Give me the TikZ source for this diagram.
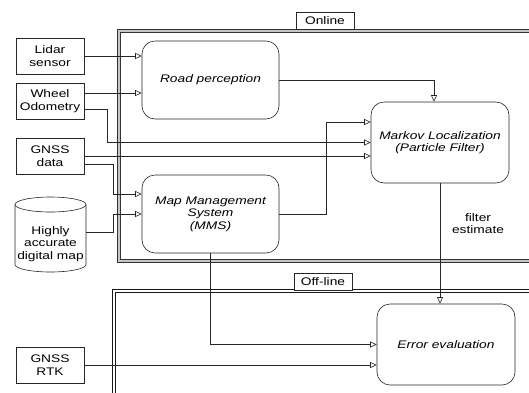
\documentclass[tikz,border=0pt]{standalone}
\usepackage{fontspec}
\setmainfont{Liberation Sans}[FakeStretch=1.25]
\usetikzlibrary{arrows.meta}
\begin{document}
\begin{tikzpicture}[x=1pt,y=-1pt,
  every node/.style={font=\fontsize{11}{12.6}\selectfont, align=center, inner sep=0pt},
  srcbox/.style={draw=black!85, line width=0.6pt, fill=white, minimum width=68pt, minimum height=36pt},
  procbox/.style={draw=black!85, line width=0.6pt, fill=white, rounded corners=13pt, font=\fontsize{11}{12.6}\selectfont\itshape},
  tagbox/.style={draw=black!85, line width=0.6pt, fill=white, minimum width=58pt, minimum height=17pt},
  conn/.style={draw=black!85, line width=0.6pt},
  arr/.style={conn, -{Triangle[open, length=6.5pt, width=6pt]}},
  frameon/.style={draw=black!80, line width=0.75pt, double=gray!45, double distance=2.2pt},
  frameoff/.style={draw=black!90, line width=0.8pt, double=white, double distance=2.2pt}
]
\useasboundingbox (0,0) rectangle (529,392);
\begin{scope}
\clip (0,0) rectangle (529,392);
% frames
\draw[frameon] (119,31) rectangle (545,261.3);
\draw[frameoff] (114,291.3) rectangle (545,410);
\end{scope}

% tags
\node[tagbox] (online) at (325,20.5) {Online};
\node[tagbox] (offline) at (323,281.5) {Off-line};

% sources
\node[srcbox] (lidar) at (50,56) {Lidar\\sensor};
\node[srcbox] (wheel) at (50,101) {Wheel\\Odometry};
\node[srcbox] (gnss) at (50,156) {GNSS\\data};
\node[srcbox] (rtk) at (50,365) {GNSS\\RTK};

% cylinder
\draw[conn, fill=white] (15,204.5) -- (15,264.5) arc[start angle=180, end angle=0, x radius=35.5, y radius=7.5] -- (86,204.5);
\draw[conn] (50.5,204.5) ellipse [x radius=35.5, y radius=7.5];
\node[minimum width=71pt, minimum height=40pt] (map) at (50.5,244) {Highly\\accurate\\digital map};

% processes
\node[procbox, minimum width=137pt, minimum height=78pt] (road) at (210.5,80) {Road perception};
\node[procbox, minimum width=137pt, minimum height=78pt] (mms) at (210.5,214) {Map Management\\System\\(MMS)};
\node[procbox, minimum width=138pt, minimum height=81pt] (markov) at (440,142.5) {Markov Localization\\(Particle Filter)};
\node[procbox, minimum width=138pt, minimum height=81pt] (err) at (446,344.5) {Error evaluation};

% connectors
\draw[arr] (lidar.east) -- (lidar.east -| road.west);
\draw[arr] ([yshift=8pt]wheel.east) -- ([yshift=8pt]wheel.east -| road.west);
\draw[arr] ([yshift=-8pt]wheel.east) -- ++(23,0) |- (markov.west);
\draw[arr] (gnss.east) -- (gnss.east -| markov.west);
\draw[arr] ([yshift=-8pt]gnss.east) -- ++(29,0) |- ([yshift=20pt]mms.west);
\draw[arr] ([yshift=12pt]map.east) -- ++(27,0) |- (mms.west);
\draw[arr] (road.east) -| ([xshift=-6pt]markov.north);
\draw[arr] (mms.east) -- ++(47,0) |- ([yshift=20.5pt]markov.west);
\draw[arr] (markov.south) -- (markov.south |- err.north);
\draw[arr] (mms.south) |- (err.west);
\draw[arr] (rtk.east) -- (rtk.east -| err.west);

\node (fe) at (478,223.5) {filter\\estimate};
\end{tikzpicture}
\end{document}
